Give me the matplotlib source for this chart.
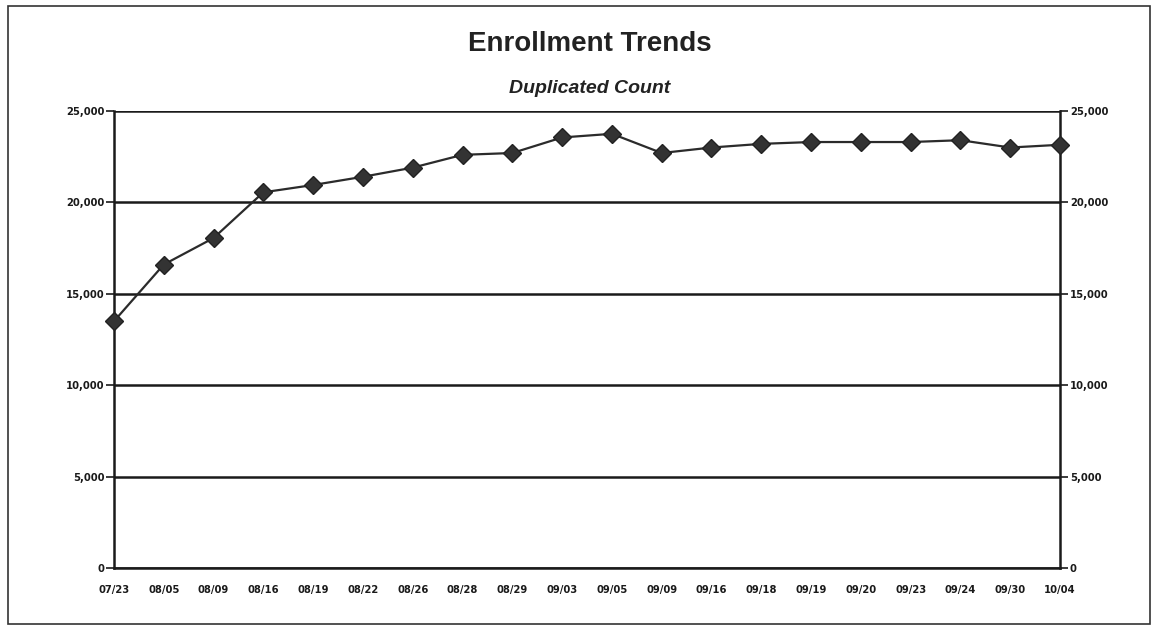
import numpy as np
import matplotlib
matplotlib.use('Agg')
import matplotlib.pyplot as plt
from matplotlib.patches import Rectangle
from matplotlib.ticker import FuncFormatter

# enrollment snapshots, duplicated headcount
dates = ['07/23', '08/05', '08/09', '08/16', '08/19', '08/22', '08/26', '08/28', '08/29', '09/03',
         '09/05', '09/09', '09/16', '09/18', '09/19', '09/20', '09/23', '09/24', '09/30', '10/04']
counts = [13500, 16600, 18050, 20550, 20950, 21400, 21900, 22600, 22700, 23550,
          23750, 22700, 23000, 23200, 23300, 23300, 23300, 23400, 23000, 23150]
y_ticks = [0, 5000, 10000, 15000, 20000, 25000]

plt.rcParams['font.family'] = ['Liberation Sans', 'DejaVu Sans']

fig = plt.figure(figsize=(11.56, 6.34), dpi=100)
ax = fig.add_axes([0.0986, 0.104, 0.8184, 0.721])

x = np.arange(len(dates))
ax.plot(x, counts, color='#2b2b2b', lw=1.6, marker='D', markersize=9,
        markerfacecolor='#333333', markeredgecolor='#222222', zorder=5, clip_on=False)

ax.set_xlim(0, len(dates) - 1)
ax.set_ylim(0, 25000)
ax.set_xticks(x)
ax.set_xticklabels(dates)
ax.set_yticks(y_ticks)
ax.yaxis.set_major_formatter(FuncFormatter(lambda v, p: f'{int(v):,}'))

ax.grid(axis='y', color='#1a1a1a', lw=1.8)
ax.set_axisbelow(True)
for side in ['left', 'right', 'bottom']:
    ax.spines[side].set_color('#1a1a1a')
    ax.spines[side].set_linewidth(1.8)
ax.spines['top'].set_visible(False)

ax.tick_params(axis='x', length=0, pad=12, labelsize=7, colors='#1a1a1a')
ax.tick_params(axis='y', length=6, width=1.2, pad=1, labelsize=7, colors='#1a1a1a',
               right=True, labelright=True, direction='out')

# tick labels in a wider bold face
for t in ax.xaxis.get_major_ticks() + ax.yaxis.get_major_ticks():
    for lbl in (t.label1, t.label2):
        lbl.set_fontfamily('DejaVu Sans')
        lbl.set_fontweight('bold')
        lbl.set_fontsize(7.2)

fig.text(0.51, 0.93, 'Enrollment Trends', ha='center', va='center',
         fontsize=20, fontweight='bold', color='#222222')
fig.text(0.51, 0.86, 'Duplicated Count', ha='center', va='center',
         fontsize=14, fontweight='bold', fontstyle='italic', color='#222222')

# outer frame
fig.patches.append(Rectangle((0.007, 0.016), 0.988, 0.975, transform=fig.transFigure,
                             fill=False, edgecolor='#333333', lw=1.2))

fig.savefig('out.png', dpi=100)
